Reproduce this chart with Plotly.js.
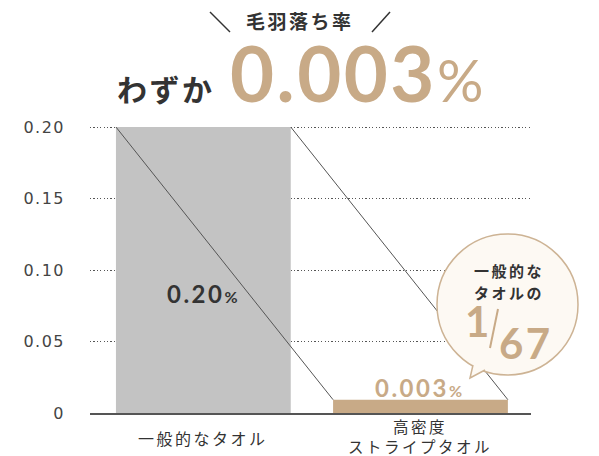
<!DOCTYPE html>
<html>
<head>
<meta charset="utf-8">
<script src="https://cdn.plot.ly/plotly-3.0.1.min.js"></script>
<style>
  body { margin: 0; background: #fff; }
  .annotation-text { letter-spacing: 2.5px; }
  .ytick text { letter-spacing: 1.5px; }
</style>
</head>
<body>
<div id="chart" style="width:599px;height:456px;"></div>
<script>
// data
let categories = ["一般的なタオル", "高密度<br>ストライプタオル"];
let rates = [0.20, 0.003];
let rate_labels = ["0.20", "0.003"];
let y_ticks = [0, 0.05, 0.10, 0.15, 0.20];
let y_tick_text = ["0", "0.05", "0.10", "0.15", "0.20"];

let gray = "#c3c3c3";
let tan = "#c8aa87";
let dark = "#333333";

// plot box (px) -> paper helpers
let L = 90, R = 68, T = 125, B = 43, W = 599, H = 456;
let plot_w = W - L - R, plot_h = H - T - B;
function px(x) { return (x - L) / plot_w; }
function py(y) { return (H - B - y) / plot_h; }

let y_max = 0.2014; // 2px above 0.20 so plotly keeps the top grid line
let bar_w = 0.805;
let thick = 18; // thick outline so the tiny bar stays visible
let unit_px = 217.2;
let top_pad = (thick / 2) / (plot_h / y_max);

let bars = {
    type: "bar",
    x: [0, 1],
    y: rates,
    width: [bar_w, bar_w - thick / unit_px],
    marker: { color: [gray, tan], line: { color: [gray, tan], width: [0, thick] } },
    hoverinfo: "skip"
};

let line_left = {
    x: [-bar_w / 2, 1 - bar_w / 2],
    y: [rates[0], rates[1] + top_pad],
    mode: "lines",
    line: { color: "#555", width: 1 },
    hoverinfo: "skip"
};

let line_right = {
    x: [bar_w / 2, 1 + bar_w / 2],
    y: [rates[0], rates[1] + top_pad],
    mode: "lines",
    line: { color: "#555", width: 1 },
    hoverinfo: "skip"
};

let jp = "Noto Sans CJK JP";
let num = "Lato";

let annotations = [
    { x: px(300), y: py(21), text: "毛羽落ち率", font: { family: jp, size: 19, color: dark, weight: "bold" } },
    { x: px(216), y: py(88), xanchor: "right", text: "わずか", font: { family: jp, size: 30, color: dark, weight: "bold" } },
    { x: px(229), y: py(72), xanchor: "left",
      text: "0.003<span style=\"font-size:58px;font-weight:normal\">%</span>",
      font: { family: num, size: 76, color: tan, weight: "bold" } },
    { x: 0, xref: "x", y: py(293), text: rate_labels[0] + "<span style=\"font-size:16px\">%</span>",
      font: { family: num, size: 24, color: dark, weight: "bold" } },
    { x: 1, xref: "x", y: py(387), text: rate_labels[1] + "<span style=\"font-size:16px\">%</span>",
      font: { family: num, size: 24, color: tan, weight: "bold" } },
    { x: 0, xref: "x", y: py(438), text: categories[0], font: { family: jp, size: 16, color: dark } },
    { x: 1, xref: "x", y: py(436), text: categories[1], font: { family: jp, size: 15.5, color: dark } },
    { x: px(509), y: py(270), text: "一般的な", font: { family: jp, size: 15, color: dark, weight: "bold" } },
    { x: px(509), y: py(292), text: "タオルの", font: { family: jp, size: 15, color: dark, weight: "bold" } },
    { x: px(478), y: py(321), text: "1", font: { family: num, size: 42, color: tan, weight: "bold" } },
    { x: px(526), y: py(343), text: "67", font: { family: num, size: 42, color: tan, weight: "bold" } }
];
annotations.forEach(function (a) {
    a.xref = a.xref || "paper";
    a.yref = "paper";
    a.showarrow = false;
    a.yanchor = "middle";
    a.borderpad = 0;
    if (!a.xanchor) a.xanchor = "center";
});

let shapes = [
    { type: "line", xref: "paper", yref: "paper", x0: px(210), y0: py(12), x1: px(230), y1: py(32), line: { color: dark, width: 1.5 } },
    { type: "line", xref: "paper", yref: "paper", x0: px(390), y0: py(12), x1: px(372), y1: py(32), line: { color: dark, width: 1.5 } },
    { type: "circle", xref: "paper", yref: "paper", x0: px(437), x1: px(578), y0: py(375), y1: py(234),
      fillcolor: "#fdf9f3", line: { color: "#cdb394", width: 1.5 } },
    { type: "path", xref: "paper", yref: "paper",
      path: "M" + px(473.7) + "," + py(362) + " L" + px(470) + "," + py(378) + " L" + px(489.5) + "," + py(367.6) + " Z",
      fillcolor: "#fdf9f3", line: { width: 0 } },
    { type: "path", xref: "paper", yref: "paper",
      path: "M" + px(473) + "," + py(365) + " L" + px(470) + "," + py(378) + " L" + px(485) + "," + py(370),
      line: { color: "#cdb394", width: 1.5 } },
    { type: "line", xref: "paper", yref: "paper", x0: px(498), y0: py(309), x1: px(490), y1: py(348), line: { color: tan, width: 2 } }
];

let layout = {
    width: W,
    height: H,
    margin: { l: L, r: R, t: T, b: B },
    paper_bgcolor: "#fff",
    plot_bgcolor: "#fff",
    showlegend: false,
    xaxis: {
        range: [-0.522, 1.509],
        showticklabels: false,
        showgrid: false,
        zeroline: false,
        showline: true,
        linecolor: "#555",
        linewidth: 2,
        fixedrange: true
    },
    yaxis: {
        range: [0, y_max],
        tickvals: y_ticks,
        ticktext: y_tick_text,
        tickfont: { family: "DejaVu Sans", size: 16, color: "#444" },
        ticks: "",
        ticklabelstandoff: 24,
        showgrid: true,
        gridcolor: "#555",
        gridwidth: 1,
        griddash: "1.2px,2.2px",
        zeroline: false,
        fixedrange: true
    },
    annotations: annotations,
    shapes: shapes
};

Plotly.newPlot("chart", [bars, line_left, line_right], layout, { displayModeBar: false, staticPlot: true });
</script>
</body>
</html>
